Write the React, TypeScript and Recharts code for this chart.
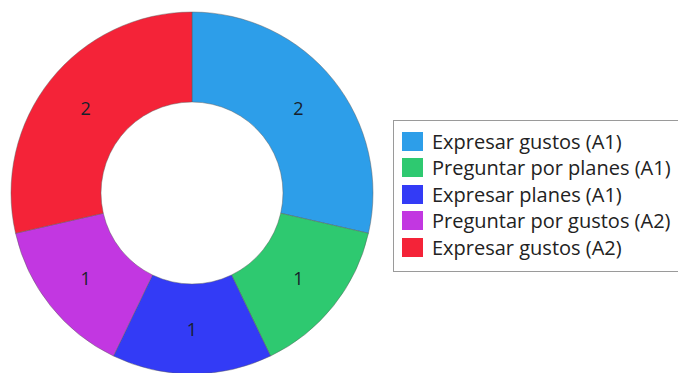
import { PieChart, Pie, Cell, Legend } from 'recharts';

const categories = [
  'Expresar gustos (A1)',
  'Preguntar por planes (A1)',
  'Expresar planes (A1)',
  'Preguntar por gustos (A2)',
  'Expresar gustos (A2)',
];
const counts = [2, 1, 1, 1, 2];
const colors = ['#2d9ee9', '#2ec970', '#333bf6', '#c237e1', '#f42338'];

const data = categories.map((name, i) => ({ name, value: counts[i] }));

const RADIAN = Math.PI / 180;

const renderLabel = ({ cx, cy, midAngle, innerRadius, outerRadius, value }: any) => {
  const r = (innerRadius + outerRadius) / 2;
  const x = cx + r * Math.cos(-midAngle * RADIAN);
  const y = cy + r * Math.sin(-midAngle * RADIAN);
  return (
    <text x={x} y={y} fill="#17202b" fontSize={18} fontFamily="'Open Sans', sans-serif"
      textAnchor="middle" dominantBaseline="central">
      {value}
    </text>
  );
};

const BoxLegend = () => (
  <div style={{
    border: '1.5px solid #9a9a9a', padding: '7px 0 10px 8px', width: 330,
    fontFamily: "'Open Sans', sans-serif", fontSize: 20, color: '#222', background: '#fff',
  }}>
    {categories.map((c, i) => (
      <div key={c} style={{ display: 'flex', alignItems: 'center', height: 26.5 }}>
        <span style={{ width: 21, height: 19, background: colors[i], marginRight: 9, flexShrink: 0 }} />
        <span style={{ whiteSpace: 'nowrap' }}>{c}</span>
      </div>
    ))}
  </div>
);

export default function App() {
  return (
    <div style={{ position: 'absolute', left: 0, top: 0, width: 678, height: 373, overflow: 'hidden', background: '#fff' }}>
      <PieChart width={678} height={373} margin={{ top: 0, right: 0, bottom: 0, left: 0 }}>
        <Pie data={data} dataKey="value" nameKey="name" cx={192} cy={193}
          innerRadius={91} outerRadius={181} startAngle={90} endAngle={-270}
          stroke="rgba(90,90,90,0.45)" strokeWidth={1}
          label={renderLabel} labelLine={false} isAnimationActive={false}>
          {data.map((d, i) => <Cell key={d.name} fill={colors[i]} />)}
        </Pie>
        <Legend content={<BoxLegend />} wrapperStyle={{ position: 'absolute', left: 393, top: 120, width: 330 }} />
      </PieChart>
    </div>
  );
}
